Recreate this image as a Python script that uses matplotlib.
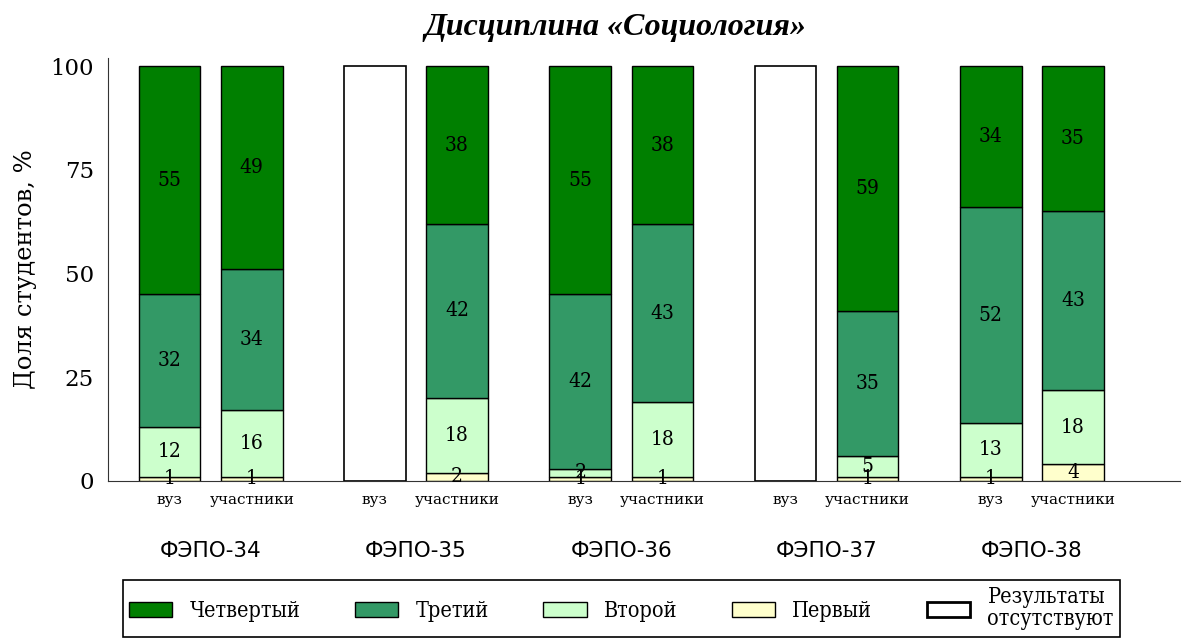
import numpy as np
import matplotlib
matplotlib.use('Agg')
import matplotlib.pyplot as plt
from matplotlib.patches import Patch
from matplotlib.transforms import blended_transform_factory

groups = ['ФЭПО-34', 'ФЭПО-35', 'ФЭПО-36', 'ФЭПО-37', 'ФЭПО-38']
sub_labels = ['вуз', 'участники']
levels = ['Первый', 'Второй', 'Третий', 'Четвертый']

# values per group: [вуз, участники]; None = results absent
first = [[1, 1], [None, 2], [1, 1], [None, 1], [1, 4]]
second = [[12, 16], [None, 18], [2, 18], [None, 5], [13, 18]]
third = [[32, 34], [None, 42], [42, 43], [None, 35], [52, 43]]
fourth = [[55, 49], [None, 38], [55, 38], [None, 59], [34, 35]]

colors = ['#ffffcc', '#ccffcc', '#339966', '#007f00']

serif = 'DejaVu Serif'

fig = plt.figure(figsize=(11.94, 6.39), dpi=100)
ax = fig.add_axes([0.0905, 0.2473, 0.8975, 0.662])

width = 0.3
offsets = [-0.2, 0.2]
data = [first, second, third, fourth]

tick_pos = []
tick_lab = []
for g in range(len(groups)):
    for s in range(2):
        x = g + offsets[s]
        tick_pos.append(x)
        tick_lab.append(sub_labels[s])
        if first[g][s] is None:
            ax.bar(x, 100, width, color='white', edgecolor='black', linewidth=1.2)
            continue
        bottom = 0
        for lvl in range(4):
            v = data[lvl][g][s]
            ax.bar(x, v, width, bottom=bottom, color=colors[lvl], edgecolor='black', linewidth=1)
            ax.text(x, bottom + v / 2.0, str(v), ha='center', va='center',
                    fontsize=15, family=serif, fontstretch='condensed')
            bottom += v

ax.set_xlim(-0.5, 4.72)
ax.set_ylim(0, 102)
ax.set_yticks([0, 25, 50, 75, 100])
ax.set_yticklabels(['0', '25', '50', '75', '100'], family=serif, fontsize=16.5)
ax.set_xticks(tick_pos)
ax.set_xticklabels(tick_lab, family=serif, fontsize=11)
ax.tick_params(length=0, pad=9)
ax.tick_params(axis='y', pad=10)
for sp in ['top', 'right']:
    ax.spines[sp].set_visible(False)
for sp in ['left', 'bottom']:
    ax.spines[sp].set_color('#333333')

ax.set_ylabel('Доля студентов, %', family=serif, fontsize=17.5, labelpad=10)

trans = blended_transform_factory(ax.transData, fig.transFigure)
for g in range(len(groups)):
    fig.text(g, 1 - 551 / 639.0, groups[g], ha='center', va='center',
             fontsize=15.5, family='DejaVu Sans', transform=trans)

fig.text(615 / 1194.0, 1 - 28 / 639.0, 'Дисциплина «Социология»', ha='center', va='center',
         fontsize=23, family='Liberation Serif', weight='bold', style='italic')

handles = [Patch(facecolor=colors[3], edgecolor='black'),
           Patch(facecolor=colors[2], edgecolor='black'),
           Patch(facecolor=colors[1], edgecolor='black'),
           Patch(facecolor=colors[0], edgecolor='black'),
           Patch(facecolor='white', edgecolor='black', linewidth=2)]
names = ['Четвертый', 'Третий', 'Второй', 'Первый', 'Результаты\nотсутствуют']
leg = fig.legend(handles, names, loc='upper left', ncol=5, mode='expand',
                 bbox_to_anchor=(112 / 1194.0, 1 - 569 / 639.0 - 0.12, 1019 / 1194.0, 0.12),
                 fancybox=False, edgecolor='black', framealpha=1,
                 prop={'family': serif, 'size': 15.5, 'stretch': 'condensed'},
                 handlelength=2.0, handleheight=0.7, borderpad=0.3, handletextpad=0.8,
                 labelspacing=0.1)
leg.get_frame().set_linewidth(1.2)
for t in leg.get_texts():
    t.set_linespacing(1.0)

fig.savefig('out.png', dpi=100)
